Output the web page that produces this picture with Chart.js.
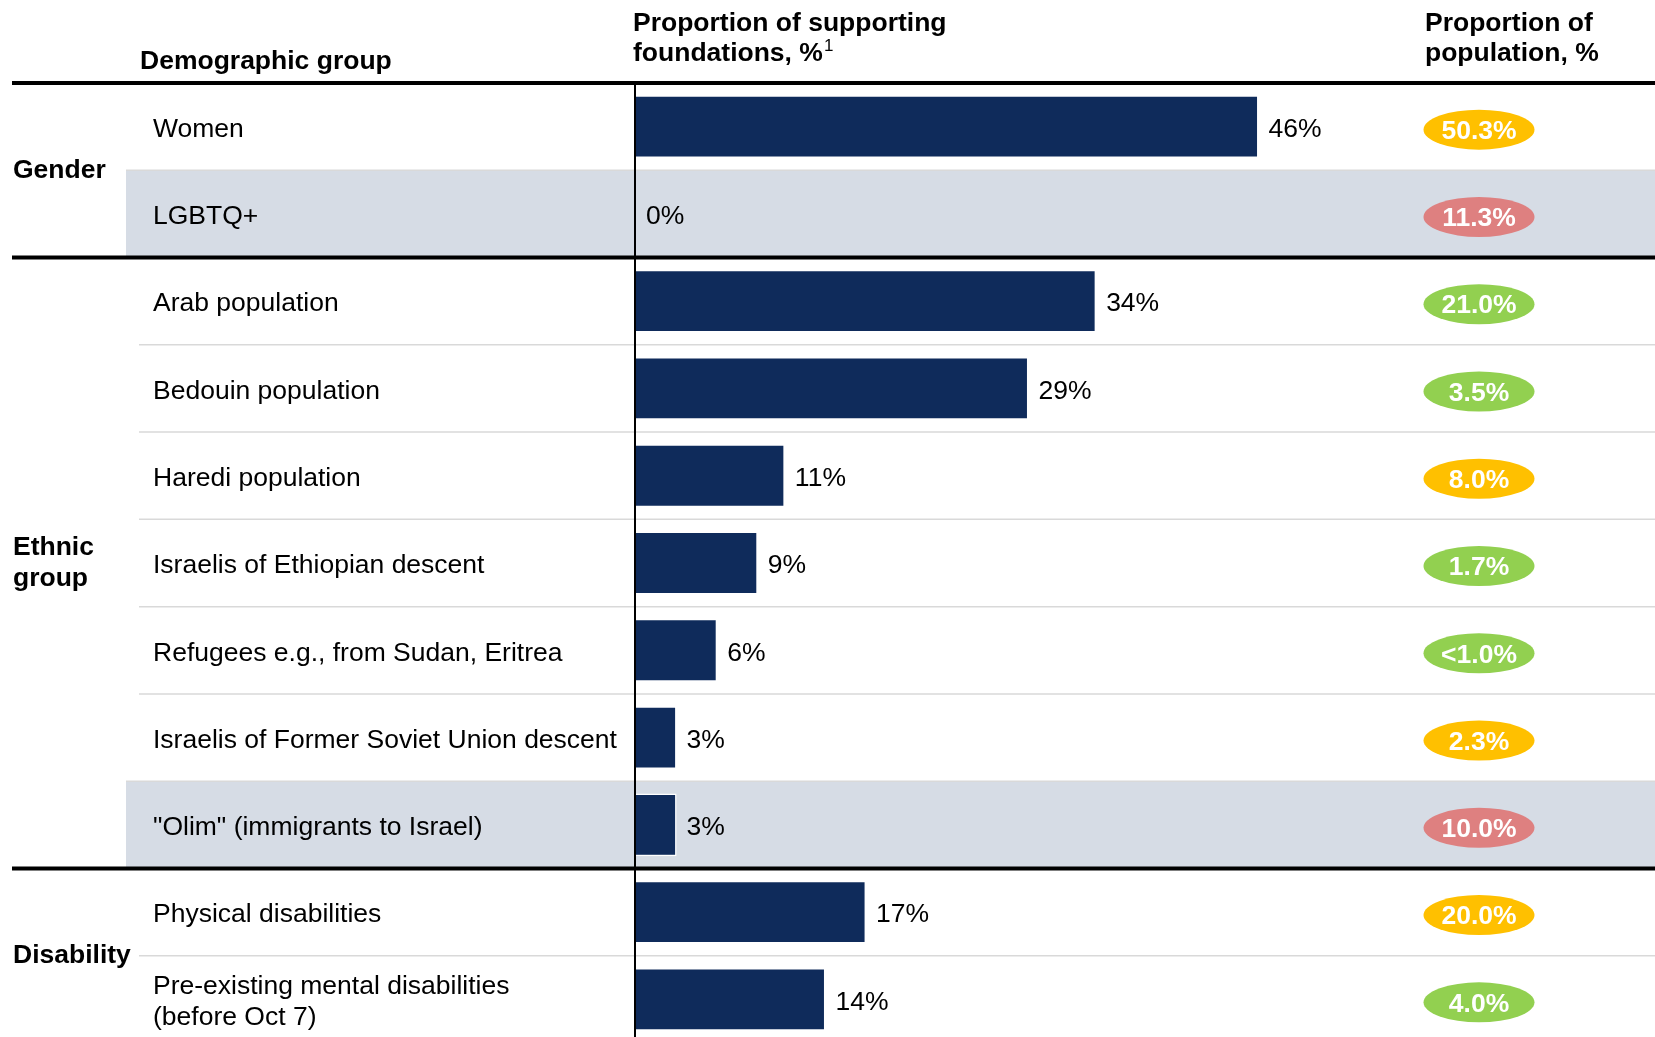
<!DOCTYPE html>
<html>
<head>
<meta charset="utf-8">
<title>Demographic groups supported by foundations</title>
<script src="https://cdn.jsdelivr.net/npm/chart.js@4.4.1/dist/chart.umd.min.js"></script>
<style>
  html, body { margin: 0; padding: 0; background: #fff; overflow: hidden; }
  canvas { display: block; }
</style>
</head>
<body>
<canvas id="chart" width="1655" height="1043"></canvas>
<script>
// Table rows, top to bottom
const categories = [
  'Women',
  'LGBTQ+',
  'Arab population',
  'Bedouin population',
  'Haredi population',
  'Israelis of Ethiopian descent',
  'Refugees e.g., from Sudan, Eritrea',
  'Israelis of Former Soviet Union descent',
  '"Olim" (immigrants to Israel)',
  'Physical disabilities',
  ['Pre-existing mental disabilities', '(before Oct 7)']
];

// Share of supporting foundations, %
const foundationShare = [46, 0, 34, 29, 11, 9, 6, 3, 3, 17, 14];

// Share of population, as printed in the pills
const populationShare = ['50.3%', '11.3%', '21.0%', '3.5%', '8.0%', '1.7%', '<1.0%', '2.3%', '10.0%', '20.0%', '4.0%'];

// How each group is covered compared to its population share
const coverage = ['even', 'under', 'over', 'over', 'even', 'over', 'over', 'even', 'under', 'even', 'over'];

// Group headings on the left
const groupNames = [['Gender'], ['Ethnic', 'group'], ['Disability']];
const groupFirstRow = [0, 2, 9];
const groupLastRow = [1, 8, 10];

const NAVY = '#0F2B5B';
const SHADE = '#D6DCE5';
const pillColors = { even: '#FFC000', under: '#DE8080', over: '#92D050' };
const FONT = "'Liberation Sans', Arial, sans-serif";
const SIZE = '26.5px';

function line(ctx, x1, y1, x2, y2) {
  ctx.beginPath();
  ctx.moveTo(x1, y1);
  ctx.lineTo(x2, y2);
  ctx.stroke();
}

function rowGeometry(chart) {
  const area = chart.chartArea;
  const y = chart.scales.y;
  const rowH = (area.bottom - area.top) / categories.length;
  return { rowH, top: i => y.getPixelForValue(i) - rowH / 2, mid: i => y.getPixelForValue(i) };
}

const tablePlugin = {
  id: 'tableLayout',
  beforeDatasetsDraw(chart) {
    const { ctx } = chart;
    const W = chart.width;
    const { rowH, top } = rowGeometry(chart);
    ctx.save();

    // highlighted rows for under-covered groups
    ctx.fillStyle = SHADE;
    coverage.forEach((c, i) => {
      if (c === 'under') ctx.fillRect(126, top(i), W - 126, rowH);
    });

    // thin rules between rows of the same group
    ctx.strokeStyle = '#D9D9D9';
    ctx.lineWidth = 1.5;
    for (let i = 1; i < categories.length; i++) {
      if (groupFirstRow.includes(i)) continue;
      line(ctx, coverage[i] === 'under' ? 126 : 139, top(i), W, top(i));
    }

    // heavy rules above each group
    ctx.strokeStyle = '#000';
    ctx.lineWidth = 4;
    groupFirstRow.forEach(i => line(ctx, 12, top(i), W, top(i)));

    // zero line of the bars
    const x0 = chart.scales.x.getPixelForValue(0) - 1;
    ctx.lineWidth = 2;
    line(ctx, x0, top(0), x0, chart.height);

    ctx.restore();
  },
  afterDatasetsDraw(chart) {
    const { ctx } = chart;
    const xScale = chart.scales.x;
    const { top, mid } = rowGeometry(chart);
    ctx.save();

    // column headers
    ctx.fillStyle = '#000';
    ctx.textAlign = 'left';
    ctx.textBaseline = 'alphabetic';
    ctx.font = `bold ${SIZE} ${FONT}`;
    ctx.fillText('Demographic group', 140, 69);
    ctx.fillText('Proportion of supporting', 633, 31);
    ctx.fillText('foundations, %', 633, 61);
    const supX = 633 + ctx.measureText('foundations, %').width + 1;
    ctx.fillText('Proportion of', 1425, 31);
    ctx.fillText('population, %', 1425, 61);
    ctx.font = `17px ${FONT}`;
    ctx.fillText('1', supX, 51);

    // group headings
    ctx.font = `bold ${SIZE} ${FONT}`;
    ctx.textBaseline = 'middle';
    groupNames.forEach((lines, g) => {
      const yc = (top(groupFirstRow[g]) + top(groupLastRow[g] + 1)) / 2;
      const startY = yc - (lines.length - 1) * 31 / 2;
      lines.forEach((t, k) => ctx.fillText(t, 13, startY + k * 31));
    });

    // row labels
    ctx.font = `${SIZE} ${FONT}`;
    categories.forEach((label, i) => {
      const lines = Array.isArray(label) ? label : [label];
      const startY = mid(i) + 3 - (lines.length - 1) * 31 / 2;
      lines.forEach((t, k) => ctx.fillText(t, 153, startY + k * 31));
    });

    // bar values
    foundationShare.forEach((v, i) => {
      ctx.fillText(v + '%', xScale.getPixelForValue(v) + 10, mid(i) + 3);
    });

    // population pills
    populationShare.forEach((p, i) => {
      const yc = mid(i) + 3;
      ctx.fillStyle = pillColors[coverage[i]];
      ctx.beginPath();
      ctx.ellipse(1479, yc, 55.5, 20, 0, 0, Math.PI * 2);
      ctx.fill();
      ctx.fillStyle = '#fff';
      ctx.font = `bold ${SIZE} ${FONT}`;
      ctx.textAlign = 'center';
      ctx.fillText(p, 1479, yc + 2);
      ctx.textAlign = 'left';
    });

    ctx.restore();
  }
};

new Chart(document.getElementById('chart'), {
  type: 'bar',
  data: {
    labels: categories,
    datasets: [{
      data: foundationShare,
      backgroundColor: NAVY,
      borderColor: '#fff',
      borderWidth: 1.5,
      borderSkipped: 'start',
      barPercentage: 0.72,
      categoryPercentage: 1
    }]
  },
  options: {
    indexAxis: 'y',
    responsive: false,
    animation: false,
    devicePixelRatio: 1,
    layout: { padding: { left: 636, top: 83, right: 4, bottom: 0 } },
    scales: {
      x: { display: false, min: 0, max: 75 },
      y: { display: false }
    },
    plugins: {
      legend: { display: false },
      tooltip: { enabled: false }
    }
  },
  plugins: [tablePlugin]
});
</script>
</body>
</html>
